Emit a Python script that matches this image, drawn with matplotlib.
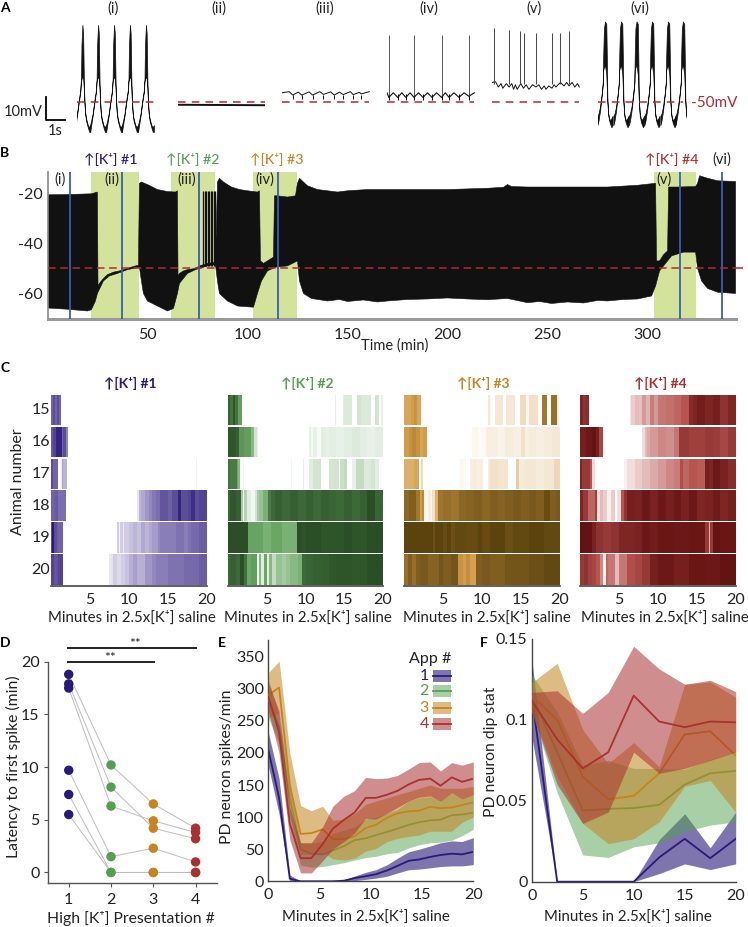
import matplotlib
matplotlib.use("Agg")
import matplotlib.pyplot as plt
from matplotlib.colors import LinearSegmentedColormap
from matplotlib.patches import Rectangle

plt.rcParams['font.family'] = ['Lato', 'DejaVu Sans']
W, H = 748, 927
NAVY, GREEN, ORANGE, RED = '#2a1a78', '#55a050', '#c68320', '#a8322f'
DRED = '#b22a35'

# ---------- Panel A ----------
cycle_rel = [-.44, -.38, -.3, -.2, -.12, -.08, -.05, 0, .04, .08, .11, .15, .2, .3, .38, .44]
cycle_low = [-63, -60, -56, -50, -46, -41, -40, -39, -40, -44, -50, -55, -58, -61, -63, -63]
cycle_up = [-60, -58, -55, -49, -45, -40, -25, -16.5, -20, -40, -49, -54, -57, -60, -61, -60]
cycle6_rel = [-.42, -.36, -.28, -.18, -.12, -.1, -.06, 0, .07, .1, .13, .18, .26, .36, .42]
cycle6_low = [-60, -58, -54, -47, -42, -36, -35, -34, -38, -44, -50, -56, -59, -61, -60]
cycle6_up = [-56, -55, -52, -46, -41, -30, -18, -15, -16, -30, -49, -55, -58, -57, -56]
bursts_i = [0.3, 1.17, 2.06, 2.94, 3.83]
bursts_vi = [0.39, 1.28, 2.14, 3.0, 3.89, 4.72]
label_a = ['(i)', '(ii)', '(iii)', '(iv)', '(v)', '(vi)']
dips_iii = [0.6, 1.1, 1.7, 2.3, 2.9, 3.4, 3.95, 4.4]
base_iii_t = [0, .4, .6, .9, 1.1, 1.5, 1.7, 2.1, 2.3, 2.7, 2.9, 3.2, 3.4, 3.8, 3.95, 4.3, 4.4, 4.85]
base_iii_v = [-46, -45.5, -47, -45.7, -47, -45.6, -47, -45.5, -46.7, -45.6, -47, -45.7, -46.8, -45.5, -46.8, -45.8, -46.5, -45.5]
spikes_iv = [0.1, 1.5, 3.03, 4.55]
dips_iv = [0.1, 0.6, 1.05, 1.5, 2.0, 2.5, 3.03, 3.45, 4.0, 4.55]
base_iv_t = [0, .1, .35, .6, .82, 1.05, 1.28, 1.5, 1.75, 2, 2.25, 2.5, 2.75, 3.03, 3.24, 3.45, 3.72, 4, 4.28, 4.55, 4.85]
base_iv_v = [-46, -48, -46, -48, -46, -48, -46, -48, -46, -48, -46, -48, -46, -48, -46, -48, -46, -48, -46, -47.5, -46]
spikes_v = [0.12, 0.95, 1.56, 1.75, 2.44, 3.33, 3.77, 4.28]
spikes_v_top = [-18, -18.5, -19, -20, -20, -20, -20, -19]
base_v_t = [0, .2, .35, .5, .6, .8, .95, 1.1, 1.2, 1.3, 1.4, 1.6, 1.75, 1.9, 2.05, 2.25, 2.44, 2.6, 2.75, 2.9, 3, 3.15, 3.33, 3.45, 3.55, 3.8, 4, 4.15, 4.28, 4.45, 4.6, 4.75, 4.85]
base_v_v = [-41.5, -41.2, -43.5, -42, -44, -42, -43.5, -42, -44.5, -42.5, -44.5, -42, -44, -42.5, -44.5, -42.5, -43.5, -42.5, -44.5, -43, -44.5, -43, -44, -42.5, -43.5, -41.5, -43, -41.5, -43, -41.5, -43.5, -42, -43.5]

# ---------- Panel B ----------
env_top_t = [0, 10, 22, 25, 25.3, 26, 28, 30, 33, 36, 40, 44, 45.5, 46, 47, 50, 55, 60, 64, 65, 65.3, 66, 68, 70, 74, 76, 80, 84, 85, 86, 88, 92, 96, 100, 105, 106, 106.5, 108, 110, 113, 113.5, 115, 120, 124, 125, 126, 128, 130, 135, 140, 145, 150, 160, 170, 200, 220, 228, 230, 232, 240, 260, 280, 295, 304, 304.5, 306, 308, 310, 310.5, 315, 324, 325, 326, 330, 335, 344]
env_top_v = [-20.6, -20.5, -20.2, -19.5, -57, -56, -54, -52.5, -51.5, -51, -50, -49, -48.8, -16, -15.5, -16.5, -18.5, -19.3, -19.5, -19, -53, -52, -51, -50.5, -50, -49, -48, -47.5, -15.5, -14, -15.5, -17.5, -18.5, -19, -19.5, -19, -47, -48, -47, -45.5, -21, -21, -21.5, -21, -16, -14, -15.5, -17, -18.5, -19, -19.5, -19, -18.5, -18.5, -18.5, -18, -17.6, -16.5, -17.3, -17.5, -17.5, -17.5, -16.8, -16, -47, -47, -44.5, -43, -17.5, -17.5, -17.3, -16, -13, -14, -15, -15.3]
env_low_t = [0, 10, 20, 22, 24, 25, 28, 31, 35, 40, 46, 47, 48, 50, 55, 60, 63, 65, 66, 70, 74, 80, 84, 85, 86, 90, 95, 103, 105, 107, 110, 114, 120, 125, 126, 128, 132, 140, 146, 150, 158, 165, 170, 180, 190, 200, 210, 220, 230, 236, 240, 246, 252, 260, 268, 275, 280, 288, 295, 302, 304, 306, 308, 312, 318, 324, 325, 327, 330, 335, 344]
env_low_v = [-65.8, -66.3, -67, -66.5, -63, -60, -55, -53, -52, -50.5, -49.5, -55, -60, -63, -65, -67, -66, -60, -56, -52, -50.5, -49, -48.5, -55, -60, -63, -65, -65.5, -60, -55, -51, -49.5, -49, -47, -55, -60, -62, -63, -62.4, -63.2, -62.6, -63.4, -63, -62.4, -62.2, -61.8, -62.2, -62.5, -62, -63, -63.7, -63.2, -64, -63.4, -63.8, -62.8, -63, -62.4, -62.2, -61, -57, -51, -49, -45, -43.5, -43.5, -50, -55, -58, -59.5, -60]
kplus_starts = [22, 62, 103, 303]
kplus_ends = [46, 84, 125, 324]
probe_times = [11.2, 37.2, 76, 115.4, 316, 337]
spikes_b = [78, 78.8, 79.5, 80.3, 81, 81.8, 82.5, 83.2, 84]
b_xticks = [50, 100, 150, 200, 250, 300]
b_yticks = [-20, -40, -60]

# ---------- Panel C: (segment end minute, shade) ----------
c1 = [
 [(.3,.65),(.5,.75),(.8,.65),(1.0,.75),(1.3,.65),(20,0)],
 [(.3,.7),(.7,.8),(1.4,.95),(1.6,.65),(1.9,.75),(2.2,.5),(20,0)],
 [(.2,.75),(.9,.65),(1.1,0),(1.2,.65),(1.35,.05),(1.5,.4),(2.0,.3),(15.6,0),(15.7,.05),(17.5,0),(17.6,.06),(18.6,0),(18.7,.06),(19.7,0),(19.8,.05),(20,0)],
 [(.5,.65),(.9,.7),(1.9,.6),(11,0),(11.3,.1),(11.6,.3),(12,.35),(12.5,.42),(13,.48),(13.5,.55),(14,.6),(15,.72),(15.5,.66),(16.3,.75),(16.7,.95),(17.5,.75),(18,.8),(18.5,.9),(19,.75),(20,.8)],
 [(.1,.75),(.4,1),(.8,.75),(1.6,.65),(8.4,0),(8.5,.15),(8.7,.2),(8.8,.05),(9.2,.2),(9.4,.1),(10,.2),(10.5,.25),(11,.3),(11.5,.25),(12,.35),(12.5,.3),(13,.35),(13.7,.4),(14,.48),(15,.52),(16,.52),(17,.58),(17.5,.52),(18,.58),(19,.62),(20,.68)],
 [(.4,.8),(.9,.72),(1.5,.8),(7.4,0),(7.7,.1),(8,.12),(8.5,.2),(9,.15),(9.5,.2),(10,.25),(10.5,.32),(11,.38),(12,.32),(13,.42),(13.5,.48),(14,.52),(15,.52),(16,.58),(17,.58),(18,.62),(19,.62),(20,.68)],
]
c2 = [
 [(.3,.9),(.6,.8),(.9,.95),(1.3,.8),(1.8,.55),(13.8,0),(13.9,.08),(14.8,0),(15,.1),(16,.12),(16.6,0),(17.2,.15),(18,.12),(18.5,.12),(19,0),(19.5,.15),(19.7,0),(20,.08)],
 [(1,.95),(1.4,.9),(2,.6),(3,.55),(3.4,.4),(3.7,.15),(3.9,.08),(10.5,0),(10.7,.08),(11,.04),(11.5,.08),(12,.03),(12.7,.1),(13,.08),(14,.1),(15,.08),(16,.1),(17,.12),(18,.1),(19,.08),(20,.1)],
 [(.3,.8),(1.1,.75),(1.3,.5),(1.6,.4),(1.7,0),(1.9,0),(2,.05),(2.4,0),(2.5,.1),(8.1,0),(8.2,.05),(9.7,0),(9.85,.08),(10.5,0),(11,.1),(12,.15),(13,0),(14.3,.15),(14.5,.05),(15,.18),(15.4,.2),(16,0),(16.5,.08),(17.5,.2),(18,.12),(18.5,.12),(19,.15),(19.5,.1),(20,0)],
 [(.3,.85),(1,.95),(1.7,.9),(2,.3),(2.5,.25),(3,.1),(3.5,.05),(3.8,.15),(4,.3),(4.5,.35),(5.2,.45),(5.5,.75),(6,.85),(7,.9),(8,.85),(9,.9),(10,.85),(11,.9),(12,.85),(13,.9),(14,.88),(15,.85),(16,.9),(17,.85),(18,.9),(19,1),(20,.88)],
 [(2.6,1),(4.5,.52),(5.5,.45),(7,.5),(8.9,.45),(9.5,1),(10,.97),(12,1),(15,.97),(16,1),(18,.97),(20,1)],
 [(.3,.85),(1,.9),(1.5,.85),(2,1),(2.4,.8),(3,.5),(3.7,.55),(4,.05),(4.2,.4),(4.6,.1),(5,.5),(5.3,.1),(5.7,.4),(6.2,.2),(7,.35),(7.5,.3),(8,.35),(9,.4),(9.5,.45),(10,.85),(11,.88),(12,.9),(13,.92),(14,.95),(16,.97),(18,.95),(20,1)],
]
c3 = [
 [(.8,.45),(1.2,.5),(1.6,.55),(2.2,.45),(10.8,0),(11,.12),(11.2,.05),(11.7,0),(12.7,.12),(13.1,0),(14.3,.12),(14.9,0),(15.7,.18),(16.1,.05),(17.2,.15),(17.7,0),(18.4,.7),(18.9,0),(19.6,.75),(19.9,.1),(20,0)],
 [(.6,.5),(1,.55),(1.5,.6),(2,.55),(2.4,.45),(2.9,.5),(8.7,0),(8.9,.05),(9,.02),(9.5,.05),(10,.02),(10.5,.03),(11,.08),(12,.08),(13,.06),(14,.1),(15,.08),(15.5,.15),(16,.08),(17,.1),(18,.08),(19,.1),(20,.12)],
 [(1.3,.4),(1.9,.45),(2.2,0),(2.4,.2),(7.2,0),(7.5,.05),(8,.03),(8.4,0),(8.9,.08),(9.2,.1),(10.1,.08),(10.8,0),(11,.1),(12,.15),(13.4,.13),(14.4,0),(14.8,.25),(15.5,.1),(17,.12),(18,.1),(19.3,.12),(20,.2)],
 [(.6,.8),(1.5,.85),(2,.7),(2.3,.5),(2.5,.6),(3,.05),(3.4,.08),(3.6,.02),(4,.15),(4.3,.4),(5,.72),(6,.75),(7,.72),(8,.8),(9,.82),(10,.85),(11,.8),(12,.85),(13,.82),(14,.85),(15,.88),(16,.85),(17,.88),(18,.85),(18.8,.95),(19.5,.85),(20,.88)],
 [(3.7,1),(4,.93),(5,1),(5.5,.95),(6,1),(6.5,.93),(8,.97),(9.5,.95),(10,1),(11,.95),(13,1),(14,.93),(16,.97),(18,1),(20,.97)],
 [(.5,.75),(1,.85),(1.5,.75),(2,.85),(3,.88),(4.5,.82),(5,.9),(6,.85),(6.9,.9),(7.5,.55),(8,.5),(8.5,.58),(9.2,.48),(10,.85),(11,.88),(13,.85),(14,.9),(16,.9),(18,.93),(20,.97)],
]
c4 = [
 [(.4,.85),(.8,.75),(1.2,.8),(6.4,0),(6.6,.08),(7,.15),(7.5,.2),(8,.18),(8.5,.3),(9,.22),(9.5,.38),(10,.3),(11,.4),(12,.42),(13,.45),(14,.5),(14.5,.8),(15,.85),(16,.92),(17,.85),(18,.9),(19,.75),(20,.85)],
 [(.8,.9),(1.5,.95),(2,1),(2.4,.9),(2.9,.6),(8,0),(8.3,.1),(8.6,.2),(9,.25),(10,.3),(11,.35),(12,.33),(12.7,.4),(14,.7),(15,.65),(16,.65),(17,.7),(18,.68),(19,.6),(20,.7)],
 [(.3,.85),(1.3,.7),(1.6,.5),(1.9,.1),(5.7,0),(6,.05),(7,.1),(8,.15),(9,.2),(10,.25),(11,.3),(12,.35),(12.8,.38),(13.2,.55),(14,.45),(15,.5),(16,.48),(16.5,.9),(17,.85),(18,.95),(19,.88),(20,.8)],
 [(.4,.85),(1,.7),(1.9,.45),(2.2,.65),(2.5,.1),(3,.2),(3.5,.15),(4,.05),(4.5,.15),(4.7,0),(5.2,.1),(5.6,.5),(6,.75),(7,.9),(8,.88),(9,.95),(10,.88),(11,.95),(12,.9),(13,.95),(14,.88),(15,.95),(16,.85),(17,.88),(18,.93),(19,.85),(20,.9)],
 [(1.6,1),(2,.88),(3,.75),(4,.7),(5,.75),(6,.85),(7,.85),(8,.88),(9,.95),(10,.92),(12,.97),(14,.95),(16,.97),(16.5,.7),(16.7,.25),(17,.7),(18,1),(20,.97)],
 [(.5,.7),(1,.75),(1.5,.65),(2,.6),(2.5,.5),(3,.35),(3.3,.05),(3.6,.45),(4.5,.4),(5,.2),(6,.4),(7,.55),(8,.6),(9,.7),(10,.9),(12,.95),(14,.9),(16,.97),(18,.95),(20,1)],
]
animals = ['15', '16', '17', '18', '19', '20']
c_xticks = [5, 10, 15, 20]

# ---------- Panel D ----------
pres = [1, 2, 3, 4]
latency = [
 [18.8, 10.2, 6.5, 4.2],
 [17.9, 8.1, 4.2, 3.2],
 [17.5, 6.3, 4.9, 3.8],
 [9.7, 1.5, 2.3, 1.0],
 [7.4, 0, 0, 0],
 [5.5, 0, 0, 0],
]

# ---------- Panel E ----------
e_t = [0, 1.05, 2.1, 3.15, 4.2, 5.3, 6.3, 7.4, 8.4, 9.5, 10.5, 11.6, 12.6, 13.7, 14.7, 15.8, 16.8, 17.9, 18.9, 20]
e1_m = [205, 130, 4, 0, 0, 0, 0, 1, 5, 8, 11, 17, 24, 32, 34, 38, 41, 43, 42, 46]
e1_u = [232, 160, 10, 0, 0, 0, 0, 2, 8, 14, 18, 26, 36, 46, 50, 55, 60, 63, 62, 68]
e1_l = [180, 105, 0, 0, 0, 0, 0, 0, 1, 3, 5, 8, 13, 18, 19, 21, 23, 24, 24, 26]
e2_m = [285, 240, 130, 50, 43, 42, 48, 55, 64, 67, 72, 77, 82, 88, 92, 95, 96, 103, 104, 107]
e2_u = [315, 260, 155, 60, 60, 62, 75, 80, 85, 97, 100, 106, 112, 125, 130, 132, 126, 138, 128, 135]
e2_l = [255, 215, 100, 25, 22, 23, 26, 29, 33, 37, 39, 43, 45, 52, 57, 60, 61, 64, 71, 81]
e3_m = [290, 302, 150, 74, 75, 81, 66, 66, 70, 83, 88, 99, 106, 109, 110, 116, 114, 115, 119, 123]
e3_u = [325, 343, 200, 118, 110, 117, 95, 97, 105, 120, 125, 130, 135, 140, 145, 150, 145, 145, 145, 148]
e3_l = [255, 262, 105, 42, 42, 45, 35, 33, 36, 47, 51, 62, 67, 70, 72, 78, 78, 78, 92, 100]
e4_m = [288, 232, 90, 36, 36, 58, 82, 96, 107, 130, 130, 135, 141, 151, 158, 160, 149, 162, 155, 160]
e4_u = [310, 265, 115, 60, 60, 85, 117, 133, 141, 162, 160, 161, 165, 175, 185, 186, 172, 185, 181, 186]
e4_l = [265, 200, 65, 13, 13, 32, 50, 62, 75, 98, 97, 106, 115, 125, 131, 133, 125, 138, 128, 135]
app_labels = ['1', '2', '3', '4']

# ---------- Panel F ----------
f_t = [0, 2.5, 5, 7.5, 10, 12.5, 15, 17.5, 20]
f1_m = [.115, 0, 0, 0, 0, .015, .0265, .0145, .0265]
f1_u = [.138, 0, 0, 0, 0, .026, .042, .021, .043]
f1_l = [.09, 0, 0, 0, 0, .005, .011, .0075, .011]
f2_m = [.115, .08, .044, .045, .0455, .0475, .06, .067, .0685]
f2_u = [.128, .105, .072, .075, .07, .07, .0695, .0755, .08]
f2_l = [.105, .055, .0165, .015, .0215, .024, .031, .035, .037]
f3_m = [.115, .10, .065, .051, .053, .067, .091, .093, .078]
f3_u = [.123, .135, .094, .073, .086, .071, .122, .1235, .114]
f3_l = [.105, .065, .036, .0235, .0265, .037, .059, .0625, .043]
f4_m = [.112, .088, .07, .08, .115, .099, .0955, .099, .0985]
f4_u = [.117, .118, .104, .117, .1455, .1315, .122, .1245, .1175]
f4_l = [.105, .06, .036, .043, .08, .067, .07, .075, .08]

TICK = 11.5
fig = plt.figure(figsize=(W / 100, H / 100), dpi=100)


def axpx(l, t, r, b):
    a = fig.add_axes([l / W, 1 - b / H, (r - l) / W, (b - t) / H])
    a.patch.set_alpha(0)
    return a


ov = fig.add_axes([0, 0, 1, 1], zorder=20)
ov.set_xlim(0, W)
ov.set_ylim(H, 0)
ov.axis('off')


def T(x, y, s, size=11, color='#222222', ha='center', **kw):
    ov.text(x, y, s, fontsize=size, color=color, ha=ha, va='center', **kw)


# ---------- A ----------
def a_axes(l, r):
    a = axpx(l, 18, r, 140)
    a.set_ylim(-50 - 38 / 2.3, -50 + 84 / 2.3)
    a.set_xlim(0, (r - l) / 18)
    a.axis('off')
    return a


def trace(a, bursts, rel, low, up):
    for b in bursts:
        a.fill_between([b + r for r in rel], low, up, color='#111111', lw=0.5)


a1 = a_axes(77, 158)
trace(a1, bursts_i, cycle_rel, cycle_low, cycle_up)
a6 = a_axes(598, 686)
trace(a6, bursts_vi, cycle6_rel, cycle6_low, cycle6_up)
a2 = a_axes(178, 265)
a2.plot([0, 4.85], [-51.2, -51.4], color='#111111', lw=1.4)
a3 = a_axes(282, 370)
a3.plot(base_iii_t, base_iii_v, color='#111111', lw=0.7)
a3.vlines(dips_iii, -47, -48.5, color='#111111', lw=0.7)
a4 = a_axes(387, 475)
a4.plot(base_iv_t, base_iv_v, color='#111111', lw=0.8)
a4.vlines(dips_iv, -49.2, -46.5, color='#111111', lw=0.8)
a4.vlines(spikes_iv, -47, -21, color='#555555', lw=0.7)
a5 = a_axes(492, 580)
a5.plot(base_v_t, base_v_v, color='#111111', lw=0.7)
a5.vlines(spikes_v, -42, spikes_v_top, color='#444444', lw=0.7)
for a, ya, xr in [(a1, -50, 4.5), (a6, -50, 4.7), (a2, -49.9, 4.85), (a3, -50, 4.85), (a4, -50, 4.85), (a5, -50, 4.85)]:
    a.plot([0, xr], [ya, ya], color=DRED, lw=1.1, dashes=(5, 4))
for x, s in zip([113, 219, 325, 429, 534, 640], label_a):
    T(x, 9, s, 10.5)
ov.plot([46.5, 46.5, 64.7], [97, 120, 120], color='k', lw=1.3)
T(23, 112, '10mV', 10.5)
T(55, 131, '1s', 10.5)
T(714, 103, '-50mV', 11, DRED)

# ---------- B ----------
b = axpx(48, 172, 736, 318.5)
b.set_xlim(0.3, 344.2)
b.set_ylim(-70, -11.5)
for s, e in zip(kplus_starts, kplus_ends):
    b.axvspan(s, e, color='#d4e39b', lw=0, zorder=1)
b.fill(env_top_t + env_low_t[::-1], env_top_v + env_low_v[::-1], color='#111111', lw=0.4, zorder=2)
b.vlines(spikes_b, -49, -19, color='#111111', lw=0.9, zorder=2)
b.vlines(probe_times, -70, -11.5, color='#3a5db5', lw=1.3, zorder=3)
b.plot([0.3, 344.2], [-50, -50], color=DRED, lw=1.1, dashes=(5, 3), zorder=4)
ov.plot([344.2 * 2 + 47.5, 743], [268, 268], color=DRED, lw=1.1, dashes=(5, 3))
for s in ['top', 'right']:
    b.spines[s].set_visible(False)
b.spines['bottom'].set(color='#999999', lw=2.2)
b.spines['left'].set(color='#888888', lw=1.2)
b.set_xticks(b_xticks)
b.set_yticks(b_yticks)
b.set_yticklabels(['-20', '-40', '-60'])
b.tick_params(axis='x', length=0, labelsize=TICK, pad=7, labelcolor='#222222')
b.tick_params(axis='y', length=0, labelsize=TICK, pad=4, labelcolor='#222222')
T(395, 346, 'Time (min)', 10.5)
for x, s, c in [(111, '#1', NAVY), (193, '#2', GREEN), (277, '#3', ORANGE), (672, '#4', RED)]:
    T(x, 159, '\u2191[K\u207a] ' + s, 10.2, c, fontweight='medium')
T(721.5, 160, '(vi)', 10.5)
for x, s in [(60, '(i)'), (112, '(ii)'), (187, '(iii)'), (265, '(iv)'), (664, '(v)')]:
    T(x, 180, s, 10.5)

# ---------- C ----------
cmaps = [
    LinearSegmentedColormap.from_list('c1', ['#ffffff', '#8e83bb', NAVY]),
    LinearSegmentedColormap.from_list('c2', ['#ffffff', '#6aa765', '#2a4f26']),
    LinearSegmentedColormap.from_list('c3', ['#ffffff', '#d29c48', '#5c430e']),
    LinearSegmentedColormap.from_list('c4', ['#ffffff', '#b85450', '#651212']),
]
panels = [c1, c2, c3, c4]
lefts = [51, 228, 404.3, 580]
rights = [207, 383, 559.7, 736]
titles = [(130, '#1', NAVY), (307, '#2', GREEN), (483, '#3', ORANGE), (660, '#4', RED)]
xlab = [132, 308, 487, 665]
for p, l, r, cm, tt, xl in zip(panels, lefts, rights, cmaps, titles, xlab):
    a = axpx(l, 395, r, 586)
    a.set_xlim(0, 20)
    a.set_ylim(6, 0.03)
    for i, row in enumerate(p):
        start = 0
        for end, lev in row:
            if lev > 0:
                a.barh(i + 0.485, end - start, left=start, height=0.94, color=cm(float(lev)), lw=0)
            start = end
    for s in ['top', 'right', 'left']:
        a.spines[s].set_visible(False)
    a.spines['bottom'].set(color='#444444', lw=1.2)
    a.set_xticks(c_xticks)
    a.set_yticks([])
    a.tick_params(axis='x', length=0, labelsize=TICK, pad=5, labelcolor='#222222')
    T(tt[0], 383, '\u2191[K\u207a] ' + tt[1], 10, tt[2], fontweight='bold')
    T(xl, 618, 'Minutes in 2.5x[K\u207a] saline', 10.8)
for i, s in enumerate(animals):
    T(41, 410 + 32 * i, s, 11.5)
T(18, 482, 'Animal number', 11.5, rotation=90)

# ---------- D ----------
d = axpx(48, 661.7, 216.7, 883)
d.set_xlim(0.51, 4.5)
d.set_ylim(-1, 20)
dot_cols = [NAVY, GREEN, ORANGE, RED]
for row in latency:
    d.plot(pres, row, color='#bdbdbd', lw=0.7, zorder=1)
for row in latency:
    d.scatter(pres, row, c=dot_cols, s=46, lw=0, zorder=2, clip_on=False)
for s in ['top', 'right']:
    d.spines[s].set_visible(False)
d.spines['left'].set(color='#555555', lw=1)
d.spines['bottom'].set(color='#555555', lw=1)
d.set_xticks(pres)
d.set_yticks([0, 5, 10, 15, 20])
d.tick_params(axis='x', length=3, labelsize=TICK, pad=4, color='#555555', labelcolor='#222222')
d.tick_params(axis='y', length=3, labelsize=TICK, pad=3, color='#555555', labelcolor='#222222')
ov.plot([67.7, 195.7], [647.7, 647.7], color='#222222', lw=1.4)
ov.plot([67.7, 154.3], [662, 662], color='#222222', lw=1.4)
T(135, 644, '**', 10)
T(110, 658, '**', 10)
T(13, 767, 'Latency to first spike (min)', 11.3, rotation=90)
T(131, 918, 'High [K\u207a] Presentation #', 11.3)

# ---------- E ----------
e = axpx(268.3, 640, 473.3, 881.3)
e.set_xlim(0, 20)
e.set_ylim(0, 241.3 / 0.6417)
series_e = [(e1_m, e1_u, e1_l, NAVY, .6), (e2_m, e2_u, e2_l, GREEN, .5), (e3_m, e3_u, e3_l, ORANGE, .55), (e4_m, e4_u, e4_l, RED, .55)]
for k, (m, u, lo, c, al) in enumerate(series_e):
    e.fill_between(e_t, lo, u, color=c, alpha=al, lw=0, zorder=2 * k + 1)
    e.plot(e_t, m, color=c, lw=1.3, zorder=2 * k + 2)
for s in ['top', 'right']:
    e.spines[s].set_visible(False)
e.spines['left'].set(color='#444444', lw=1)
e.spines['bottom'].set(color='#444444', lw=1)
e.set_xticks([0, 5, 10, 15, 20])
e.set_yticks([0, 50, 100, 150, 200, 250, 300, 350])
e.tick_params(axis='x', length=0, labelsize=TICK, pad=5, labelcolor='#222222')
e.tick_params(axis='y', length=0, labelsize=TICK, pad=3, labelcolor='#222222')
T(366, 917, 'Minutes in 2.5x[K\u207a] saline', 10.8)
T(227, 767, 'PD neuron spikes/min', 11.3, rotation=90)
T(430, 659, 'App #', 11.5)
for y, s, (m, u, lo, c, al) in zip([676, 691, 707.7, 724], app_labels, series_e):
    T(424, y, s, 11.5, c)
    ov.add_patch(Rectangle((433, y - 6), 18.3, 12, color=c, alpha=al, lw=0))
    ov.plot([433, 451.3], [y, y], color=c, lw=1.3)

# ---------- F ----------
f = axpx(531.7, 639, 735.7, 881.7)
f.set_xlim(0, 20)
f.set_ylim(0, 0.15)
series_f = [(f1_m, f1_u, f1_l, NAVY, .6), (f2_m, f2_u, f2_l, GREEN, .5), (f3_m, f3_u, f3_l, ORANGE, .55), (f4_m, f4_u, f4_l, RED, .55)]
for k, (m, u, lo, c, al) in enumerate(series_f):
    f.fill_between(f_t, lo, u, color=c, alpha=al, lw=0, zorder=2 * k + 1)
    f.plot(f_t, m, color=c, lw=1.3, zorder=2 * k + 2)
for s in ['top', 'right']:
    f.spines[s].set_visible(False)
f.spines['left'].set(color='#444444', lw=1)
f.spines['bottom'].set(color='#444444', lw=1)
f.set_xticks([0, 5, 10, 15, 20])
f.set_yticks([0, 0.05, 0.1, 0.15])
f.set_yticklabels(['0', '0.05', '0.1', '0.15'])
f.tick_params(axis='x', length=0, labelsize=TICK, pad=5, labelcolor='#222222')
f.tick_params(axis='y', length=0, labelsize=TICK, pad=3, labelcolor='#222222')
T(628, 917, 'Minutes in 2.5x[K\u207a] saline', 10.8)
T(491, 752, 'PD neuron dip stat', 11.3, rotation=90)

# ---------- panel letters ----------
for x, y, s in [(5, 8, 'A'), (5, 153, 'B'), (5, 368, 'C'), (5, 643, 'D'), (222, 643, 'E'), (484, 643, 'F')]:
    T(x, y, s, 10, 'k', fontweight='bold')

fig.savefig('out.png', dpi=100)
